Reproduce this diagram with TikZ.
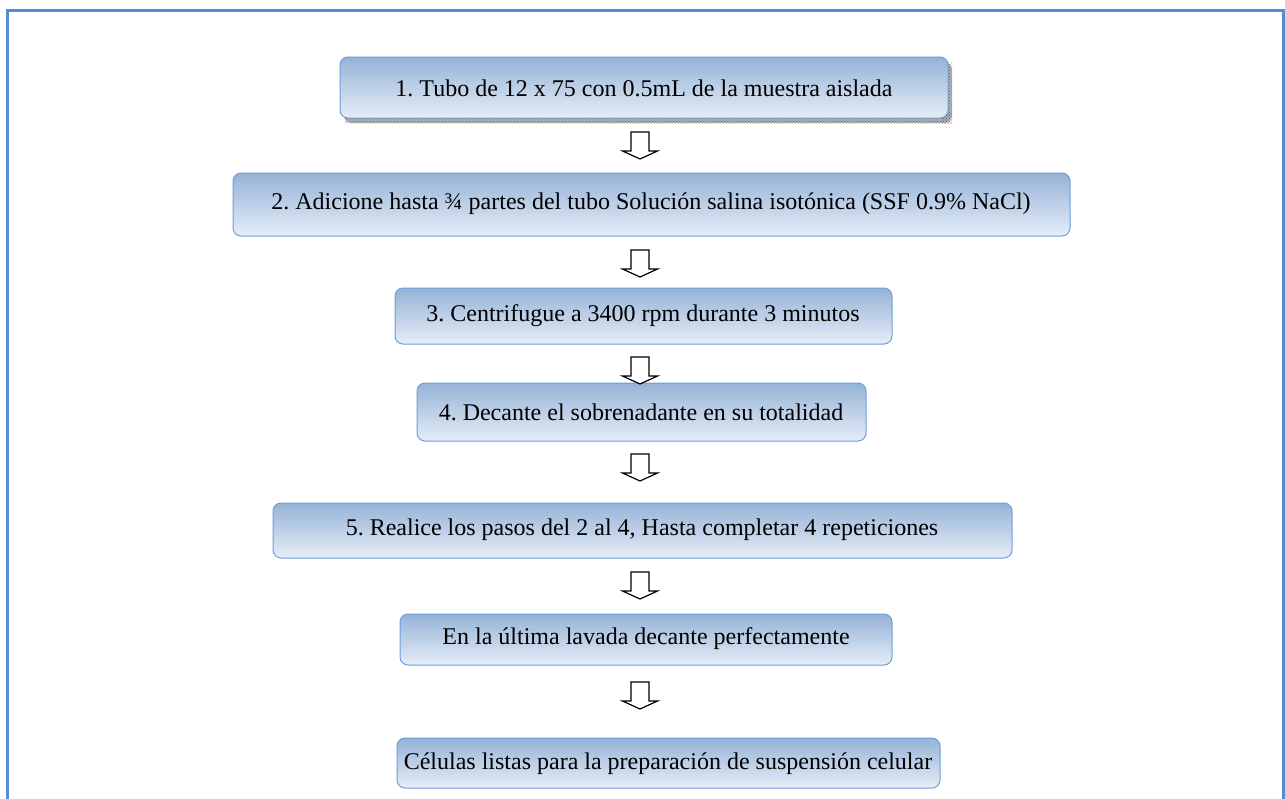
\documentclass[tikz,border=0pt]{standalone}
\usepackage{fontspec}
\setmainfont{Liberation Serif}
\usetikzlibrary{patterns}
\definecolor{framecol}{RGB}{84,141,212}
\definecolor{boxedge}{RGB}{109,158,219}
\definecolor{boxtop}{RGB}{149,179,215}
\definecolor{boxbot}{RGB}{230,237,247}
\tikzset{
  stepbox/.style={rounded corners=8pt, draw=boxedge, line width=1pt,
    top color=boxtop, bottom color=boxbot},
  steptext/.style={font=\fontsize{24}{28}\selectfont, text=black, anchor=center},
  % hollow block arrow pointing down; origin at the top of the stem
  blockarrow/.pic={
    \draw[black, line width=1.2pt, fill=white, line join=miter]
      (-9,0) -- (-9,19) -- (-17.5,19) -- (0,27) -- (17.5,19) -- (9,19) -- (9,0) -- cycle;
  },
}
\frenchspacing
\begin{document}
\begin{tikzpicture}[x=1pt,y=-1pt]
\useasboundingbox (0,0) rectangle (1285,798);
% outer frame, open at the bottom
\draw[framecol, line width=3pt] (7,800) -- (7,10) -- (1283,10) -- (1283,800);

% step 1 with its hatched shadow
\fill[gray!60, rounded corners=8pt] (344,62) rectangle (952,123);
\fill[pattern=crosshatch dots, pattern color=gray!70!black] (344,112) rectangle (952,123);
\fill[pattern=crosshatch dots, pattern color=gray!70!black] (942,62) rectangle (952,123);
\path[stepbox] (340,57) rectangle (948,118);
\node[steptext] (t1) at (644,88) {1. Tubo de 12 x 75 con 0.5mL de la muestra aislada};

\path[stepbox] (233,173) rectangle (1070,236);
\node[steptext] (t2) at (651,204) {2. Adicione hasta ¾ partes del tubo Solución salina isotónica (SSF 0.9\% NaCl)};

\path[stepbox] (395,288) rectangle (892,344);
\node[steptext] (t3) at (643,316) {3. Centrifugue a 3400 rpm durante 3 minutos};

\path[stepbox] (417,383) rectangle (866,441);
\node[steptext] (t4) at (641,412) {4. Decante el sobrenadante en su totalidad};

\path[stepbox] (273,503) rectangle (1012,558);
\node[steptext] (t5) at (642,530) {5. Realice los pasos del 2 al 4, Hasta completar 4 repeticiones};

\path[stepbox] (400,614) rectangle (892,665);
\node[steptext] (t6) at (646,639) {En la última lavada decante perfectamente};

\path[stepbox] (397,738) rectangle (940,788);
\node[steptext] (t7) at (668,764) {Células listas para la preparación de suspensión celular};

% block arrows between the steps
\pic (a1) at (640,132) {blockarrow};
\pic (a2) at (640,250) {blockarrow};
\pic (a3) at (640,357) {blockarrow};
\pic (a4) at (640,454) {blockarrow};
\pic (a5) at (640,572) {blockarrow};
\pic (a6) at (640,682) {blockarrow};
\end{tikzpicture}
\end{document}
